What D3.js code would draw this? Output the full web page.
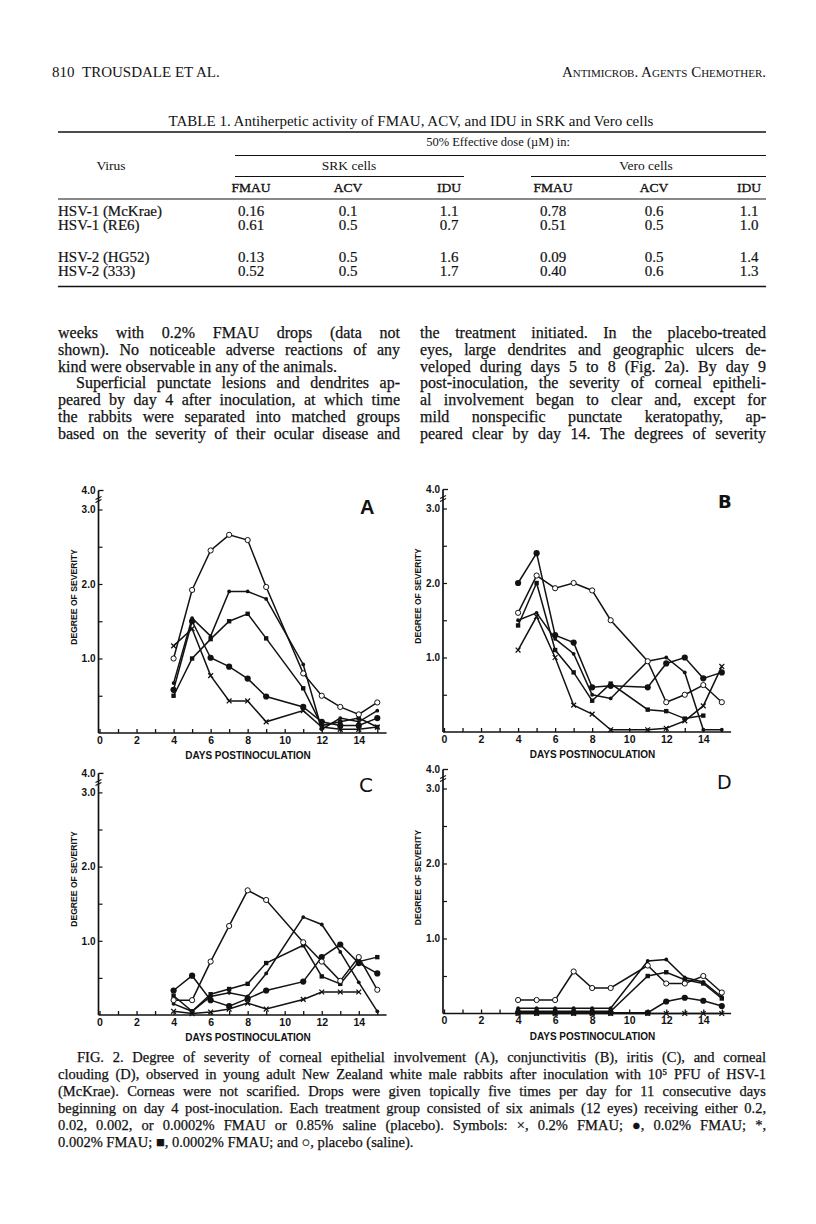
<!DOCTYPE html>
<html><head><meta charset="utf-8">
<script src="https://cdn.jsdelivr.net/npm/d3@7/dist/d3.min.js"></script>
<style>
html,body{margin:0;padding:0;background:#fff;}
svg{display:block;}
</style></head>
<body>
<svg id="page" width="816" height="1224" xmlns="http://www.w3.org/2000/svg"></svg>
<script>
// ---------------- DATA ----------------
const days = [4, 5, 6, 7, 8, 9, 11, 12, 13, 14, 15];
const xTickDays = [0,1,2,3,4,5,6,7,8,9,10,11,12,13,14,15];
const xLabelDays = [0, 2, 4, 6, 8, 10, 12, 14];
const yTickValues = [0.5, 1, 1.5, 2, 2.5, 3];
const yLabelValues = [1, 2, 3];
const yTopLabel = "4.0";
const seriesKeys = ["cross", "dot", "star", "square", "circle"];

// Panel A: corneal epithelial involvement
const aCross  = [1.17, 1.40, 0.77, 0.43, 0.43, 0.15, 0.30, 0.08, 0.05, 0.05, 0.08];
const aDot    = [0.58, 1.50, 1.01, 0.89, 0.73, 0.49, 0.35, 0.15, 0.10, 0.10, 0.20];
const aStar   = [0.67, 1.54, 1.30, 1.90, 1.90, 1.80, 0.92, 0.05, 0.20, 0.15, 0.30];
const aSquare = [0.50, 1.00, 1.26, 1.50, 1.60, 1.27, 0.60, 0.10, 0.15, 0.20, 0.08];
const aCircle = [1.00, 1.92, 2.45, 2.66, 2.59, 1.96, 0.80, 0.50, 0.35, 0.25, 0.41];
// Panel B: conjunctivitis
const bCross  = [1.10, 1.55, 1.00, 0.36, 0.24, 0.03, 0.03, 0.05, 0.15, 0.35, 0.88];
const bDot    = [2.00, 2.40, 1.30, 1.20, 0.60, 0.62, 0.60, 0.92, 1.00, 0.72, 0.80];
const bStar   = [1.50, 1.60, 1.25, 1.05, 0.50, 0.45, 0.95, 1.00, 0.80, 0.03, 0.03];
const bSquare = [1.43, 2.00, 1.10, 0.80, 0.42, 0.65, 0.30, 0.28, 0.18, 0.22, null];
const bCircle = [1.60, 2.10, 1.93, 2.00, 1.90, 1.50, 0.95, 0.40, 0.50, 0.63, 0.40];
// Panel C: iritis
const cCross  = [0.05, 0.02, 0.04, 0.08, 0.16, 0.08, 0.21, 0.31, 0.31, 0.31, null];
const cDot    = [0.33, 0.53, 0.20, 0.12, 0.22, 0.33, 0.45, 0.78, 0.95, 0.70, 0.56];
const cStar   = [0.15, 0.05, 0.25, 0.30, 0.25, 0.56, 1.32, 1.22, 0.85, 0.44, 0.05];
const cSquare = [0.26, 0.05, 0.28, 0.35, 0.42, 0.70, 0.94, 0.52, 0.42, 0.72, 0.78];
const cCircle = [0.20, 0.20, 0.72, 1.20, 1.68, 1.55, 0.98, 0.72, 0.46, 0.78, 0.34];
// Panel D: corneal clouding
const dCross  = [0.00, 0.00, 0.00, 0.00, 0.00, 0.00, 0.00, 0.00, 0.00, 0.00, 0.00];
const dDot    = [0.01, 0.01, 0.01, 0.01, 0.01, 0.01, 0.01, 0.16, 0.21, 0.17, 0.10];
const dStar   = [0.07, 0.07, 0.07, 0.07, 0.07, 0.07, 0.70, 0.72, 0.48, 0.42, 0.22];
const dSquare = [0.03, 0.03, 0.03, 0.03, 0.03, 0.03, 0.50, 0.55, 0.45, 0.40, 0.20];
const dCircle = [0.18, 0.18, 0.18, 0.56, 0.34, 0.34, 0.64, 0.40, 0.40, 0.50, 0.28];

// Table 1
const tableViruses = ["HSV-1 (McKrae)", "HSV-1 (RE6)", "HSV-2 (HG52)", "HSV-2 (333)"];
const tableColumns = ["FMAU", "ACV", "IDU", "FMAU", "ACV", "IDU"];
const srkFMAU  = ["0.16", "0.61", "0.13", "0.52"];
const srkACV   = ["0.1", "0.5", "0.5", "0.5"];
const srkIDU   = ["1.1", "0.7", "1.6", "1.7"];
const veroFMAU = ["0.78", "0.51", "0.09", "0.40"];
const veroACV  = ["0.6", "0.5", "0.5", "0.6"];
const veroIDU  = ["1.1", "1.0", "1.4", "1.3"];

// Text
const leftColumnLines = [
  "weeks with 0.2% FMAU drops (data not",
  "shown). No noticeable adverse reactions of any",
  "kind were observable in any of the animals.",
  "Superficial punctate lesions and dendrites ap-",
  "peared by day 4 after inoculation, at which time",
  "the rabbits were separated into matched groups",
  "based on the severity of their ocular disease and"
];
const rightColumnLines = [
  "the treatment initiated. In the placebo-treated",
  "eyes, large dendrites and geographic ulcers de-",
  "veloped during days 5 to 8 (Fig. 2a). By day 9",
  "post-inoculation, the severity of corneal epitheli-",
  "al involvement began to clear and, except for",
  "mild nonspecific punctate keratopathy, ap-",
  "peared clear by day 14. The degrees of severity"
];
const captionLines = [
  "FIG. 2. Degree of severity of corneal epithelial involvement (A), conjunctivitis (B), iritis (C), and corneal",
  "clouding (D), observed in young adult New Zealand white male rabbits after inoculation with 10⁵ PFU of HSV-1",
  "(McKrae). Corneas were not scarified. Drops were given topically five times per day for 11 consecutive days",
  "beginning on day 4 post-inoculation. Each treatment group consisted of six animals (12 eyes) receiving either 0.2,",
  "0.02, 0.002, or 0.0002% FMAU or 0.85% saline (placebo). Symbols: ×, 0.2% FMAU; ●, 0.02% FMAU; *,",
  "0.002% FMAU; ■, 0.0002% FMAU; and ○, placebo (saline)."
];

// ---------------- DRAWING ----------------
const ink = "#121212";
const serif = "'Liberation Serif', 'Times New Roman', serif";
const sans = "'Liberation Sans', Arial, Helvetica, sans-serif";
const svg = d3.select("#page");
svg.append("rect").attr("width", 816).attr("height", 1224).attr("fill", "#fff");

function justifiedLine(g, str, x0, x1, y, size, justify) {
  const t = g.append("text").attr("y", y).attr("font-family", serif)
    .attr("font-size", size).attr("fill", ink).attr("stroke", ink).attr("stroke-width", 0.25);
  if (!justify) { t.attr("x", x0).text(str); return t; }
  const words = str.split(" ");
  const spans = words.map(w => t.append("tspan").text(w));
  const widths = spans.map(s => s.node().getComputedTextLength());
  const total = d3.sum(widths);
  const gap = (x1 - x0 - total) / (words.length - 1);
  if (gap < 2.5) {
    t.selectAll("tspan").remove();
    t.attr("x", x0).text(str).attr("textLength", x1 - x0).attr("lengthAdjust", "spacingAndGlyphs");
    return t;
  }
  let x = x0;
  spans.forEach((s, i) => { s.attr("x", x); x += widths[i] + gap; });
  return t;
}

// Header
const hdr = svg.append("g");
hdr.append("text").attr("x", 52).attr("y", 77).attr("font-family", serif).attr("font-size", 15).attr("fill", ink).text("810");
hdr.append("text").attr("x", 82).attr("y", 77).attr("font-family", serif).attr("font-size", 15).attr("fill", ink).text("TROUSDALE ET AL.");
hdr.append("text").attr("x", 766).attr("y", 77).attr("text-anchor", "end").attr("font-family", serif)
  .attr("font-size", 15).attr("font-variant", "small-caps").attr("fill", ink).text("Antimicrob. Agents Chemother.");

// Table
const tb = svg.append("g");
tb.append("text").attr("x", 411).attr("y", 126).attr("text-anchor", "middle").attr("font-family", serif)
  .attr("font-size", 15).attr("fill", ink).text("TABLE 1. Antiherpetic activity of FMAU, ACV, and IDU in SRK and Vero cells");
const rule = (x1, x2, y, w) => tb.append("line").attr("x1", x1).attr("x2", x2).attr("y1", y).attr("y2", y)
  .attr("stroke", ink).attr("stroke-width", w);
rule(58, 766, 132, 1.6);
rule(235, 766, 155.5, 1);
rule(235, 464, 176.5, 1);
rule(531, 766, 176.5, 1);
rule(58, 766, 199, 1.2);
rule(58, 766, 286.5, 1.6);
tb.append("text").attr("x", 498).attr("y", 146).attr("text-anchor", "middle").attr("font-family", serif)
  .attr("font-size", 12.5).attr("fill", ink).text("50% Effective dose (µM) in:");
tb.append("text").attr("x", 111).attr("y", 170).attr("text-anchor", "middle").attr("font-family", serif)
  .attr("font-size", 13.5).attr("fill", ink).text("Virus");
tb.append("text").attr("x", 349).attr("y", 170).attr("text-anchor", "middle").attr("font-family", serif)
  .attr("font-size", 13.5).attr("fill", ink).text("SRK cells");
tb.append("text").attr("x", 646).attr("y", 170).attr("text-anchor", "middle").attr("font-family", serif)
  .attr("font-size", 13.5).attr("fill", ink).text("Vero cells");
const colX = [251, 348, 449, 553, 654, 749];
tb.selectAll("text.colh").data(tableColumns).join("text").attr("class", "colh")
  .attr("x", (d, i) => colX[i]).attr("y", 192).attr("text-anchor", "middle")
  .attr("font-family", serif).attr("font-size", 13.5).attr("stroke", ink).attr("stroke-width", 0.35)
  .attr("fill", ink).text(d => d);
const rowY = [216, 230, 262, 276];
tb.selectAll("text.virus").data(tableViruses).join("text").attr("class", "virus")
  .attr("x", 58).attr("y", (d, i) => rowY[i]).attr("font-family", serif).attr("font-size", 15)
  .attr("stroke", ink).attr("stroke-width", 0.2).attr("fill", ink).text(d => d);
[srkFMAU, srkACV, srkIDU, veroFMAU, veroACV, veroIDU].forEach((col, ci) => {
  tb.selectAll("text.c" + ci).data(col).join("text").attr("class", "c" + ci)
    .attr("x", colX[ci]).attr("y", (d, i) => rowY[i]).attr("text-anchor", "middle")
    .attr("font-family", serif).attr("font-size", 15).attr("stroke", ink).attr("stroke-width", 0.2)
    .attr("fill", ink).text(d => d);
});

// Body text
const body = svg.append("g");
leftColumnLines.forEach((s, i) => {
  const indent = i === 3 ? 18 : 0;
  justifiedLine(body, s, 58 + indent, 400, 338 + i * 16.8, 16, i !== 2);
});
rightColumnLines.forEach((s, i) => {
  justifiedLine(body, s, 420, 766, 338 + i * 16.8, 16, true);
});

// Caption
const cap = svg.append("g");
captionLines.forEach((s, i) => {
  const x0 = i === 0 ? 77 : 58;
  justifiedLine(cap, s, x0, 766, 1062 + i * 17, 14.5, i !== captionLines.length - 1);
});

// Panels
const panelConfigs = [
  { letter: "A", x0: 99.5, base: 733,  unit: 74.5, series: [aCross, aDot, aStar, aSquare, aCircle], lx: 360, ly: 514, lfont: sans, lw: "bold", lsize: 20 },
  { letter: "B", x0: 444,  base: 732,  unit: 74.5, series: [bCross, bDot, bStar, bSquare, bCircle], lx: 718, ly: 508, lfont: "'DejaVu Sans', sans-serif", lw: "bold", lsize: 18 },
  { letter: "C", x0: 99.5, base: 1015, unit: 74.2, series: [cCross, cDot, cStar, cSquare, cCircle], lx: 359, ly: 792, lfont: "'DejaVu Sans', sans-serif", lw: "normal", lsize: 20 },
  { letter: "D", x0: 444,  base: 1013.5, unit: 75, series: [dCross, dDot, dStar, dSquare, dCircle], lx: 717, ly: 789, lfont: "'DejaVu Sans', sans-serif", lw: "normal", lsize: 19 }
];
const dayStep = 18.52;

panelConfigs.forEach(p => {
  const g = svg.append("g");
  const x = d3.scaleLinear().domain([0, 15.5]).range([p.x0, p.x0 + 15.5 * dayStep]);
  const y = d3.scaleLinear().domain([0, 3]).range([p.base, p.base - 3 * p.unit]);
  const axX = p.x0 - 1;

  // x axis
  const xAxis = d3.axisBottom(x).tickValues(xTickDays).tickSize(-4).tickSizeOuter(0)
    .tickFormat(d => xLabelDays.includes(d) ? String(d) : "");
  const gx = g.append("g").attr("transform", `translate(0,${p.base})`).call(xAxis);
  gx.select(".domain").attr("stroke", ink).attr("stroke-width", 1.7).attr("d", `M${axX},0H${x(15.5)}`);
  gx.selectAll(".tick line").attr("stroke", ink).attr("stroke-width", 1.3);
  gx.selectAll(".tick text").attr("fill", ink).attr("font-family", sans).attr("font-weight", "bold")
    .attr("font-size", 10.5).attr("dy", "0.6em").attr("y", 4.5);

  // y axis
  const yAxis = d3.axisLeft(y).tickValues(yTickValues).tickSize(-4).tickSizeOuter(0)
    .tickFormat(d => yLabelValues.includes(d) ? d3.format(".1f")(d) : "");
  const gy = g.append("g").attr("transform", `translate(${axX},0)`).call(yAxis);
  const topY = y(3) - 19;
  gy.select(".domain").attr("stroke", ink).attr("stroke-width", 1.7).attr("d", `M0,${p.base}V${topY}`);
  gy.selectAll(".tick line").attr("stroke", ink).attr("stroke-width", 1.2);
  gy.selectAll(".tick text").attr("fill", ink).attr("font-family", sans).attr("font-weight", "bold")
    .attr("font-size", 10).attr("x", -3);
  // top 4.0 label, tick and break mark
  g.append("text").attr("x", axX - 3).attr("y", topY).attr("dy", "0.32em").attr("text-anchor", "end")
    .attr("font-family", sans).attr("font-weight", "bold").attr("font-size", 10).attr("fill", ink).text(yTopLabel);
  g.append("line").attr("x1", axX).attr("x2", axX + 5).attr("y1", topY).attr("y2", topY).attr("stroke", ink).attr("stroke-width", 1.3);
  const by = topY + 8;
  g.append("path").attr("d", `M${axX - 3},${by + 1}L${axX + 3},${by - 2}M${axX - 3},${by + 4}L${axX + 3},${by + 1}`)
    .attr("stroke", ink).attr("stroke-width", 1.1).attr("fill", "none");

  // axis titles
  g.append("text").attr("x", p.x0 + 148.5).attr("y", p.base + 26).attr("text-anchor", "middle")
    .attr("font-family", sans).attr("font-weight", "bold").attr("font-size", 10).attr("fill", ink).text("DAYS POSTINOCULATION");
  g.append("text").attr("transform", `translate(${axX - 22},${p.base - 136}) rotate(-90)`).attr("text-anchor", "middle")
    .attr("font-family", sans).attr("font-weight", "bold").attr("font-size", 8.6).attr("fill", ink).text("DEGREE OF SEVERITY");

  // panel letter
  g.append("text").attr("x", p.lx).attr("y", p.ly).attr("font-family", p.lfont).attr("font-weight", p.lw)
    .attr("font-size", p.lsize).attr("fill", ink).text(p.letter);

  // series
  const line = d3.line().defined(d => d.v != null).x(d => x(d.day)).y(d => y(d.v));
  p.series.forEach((vals, si) => {
    const pts = days.map((day, i) => ({ day, v: vals[i] }));
    g.append("path").datum(pts).attr("d", line).attr("fill", "none").attr("stroke", ink).attr("stroke-width", 1.5);
    const valid = pts.filter(d => d.v != null);
    const key = seriesKeys[si];
    const mg = g.append("g");
    if (key === "cross") {
      mg.selectAll("path").data(valid).join("path")
        .attr("d", d => { const cx = x(d.day), cy = y(d.v), r = 2.4; return `M${cx - r},${cy - r}L${cx + r},${cy + r}M${cx - r},${cy + r}L${cx + r},${cy - r}`; })
        .attr("stroke", ink).attr("stroke-width", 1.3).attr("fill", "none");
    } else if (key === "dot") {
      mg.selectAll("circle").data(valid).join("circle").attr("cx", d => x(d.day)).attr("cy", d => y(d.v)).attr("r", 3.1).attr("fill", ink);
    } else if (key === "star") {
      mg.selectAll("circle").data(valid).join("circle").attr("cx", d => x(d.day)).attr("cy", d => y(d.v)).attr("r", 1.9).attr("fill", ink);
    } else if (key === "square") {
      mg.selectAll("rect").data(valid).join("rect").attr("x", d => x(d.day) - 2.2).attr("y", d => y(d.v) - 2.2)
        .attr("width", 4.4).attr("height", 4.4).attr("fill", ink);
    } else {
      mg.selectAll("circle").data(valid).join("circle").attr("cx", d => x(d.day)).attr("cy", d => y(d.v)).attr("r", 2.6)
        .attr("fill", "#fff").attr("stroke", ink).attr("stroke-width", 1);
    }
  });
});
</script>
</body></html>
